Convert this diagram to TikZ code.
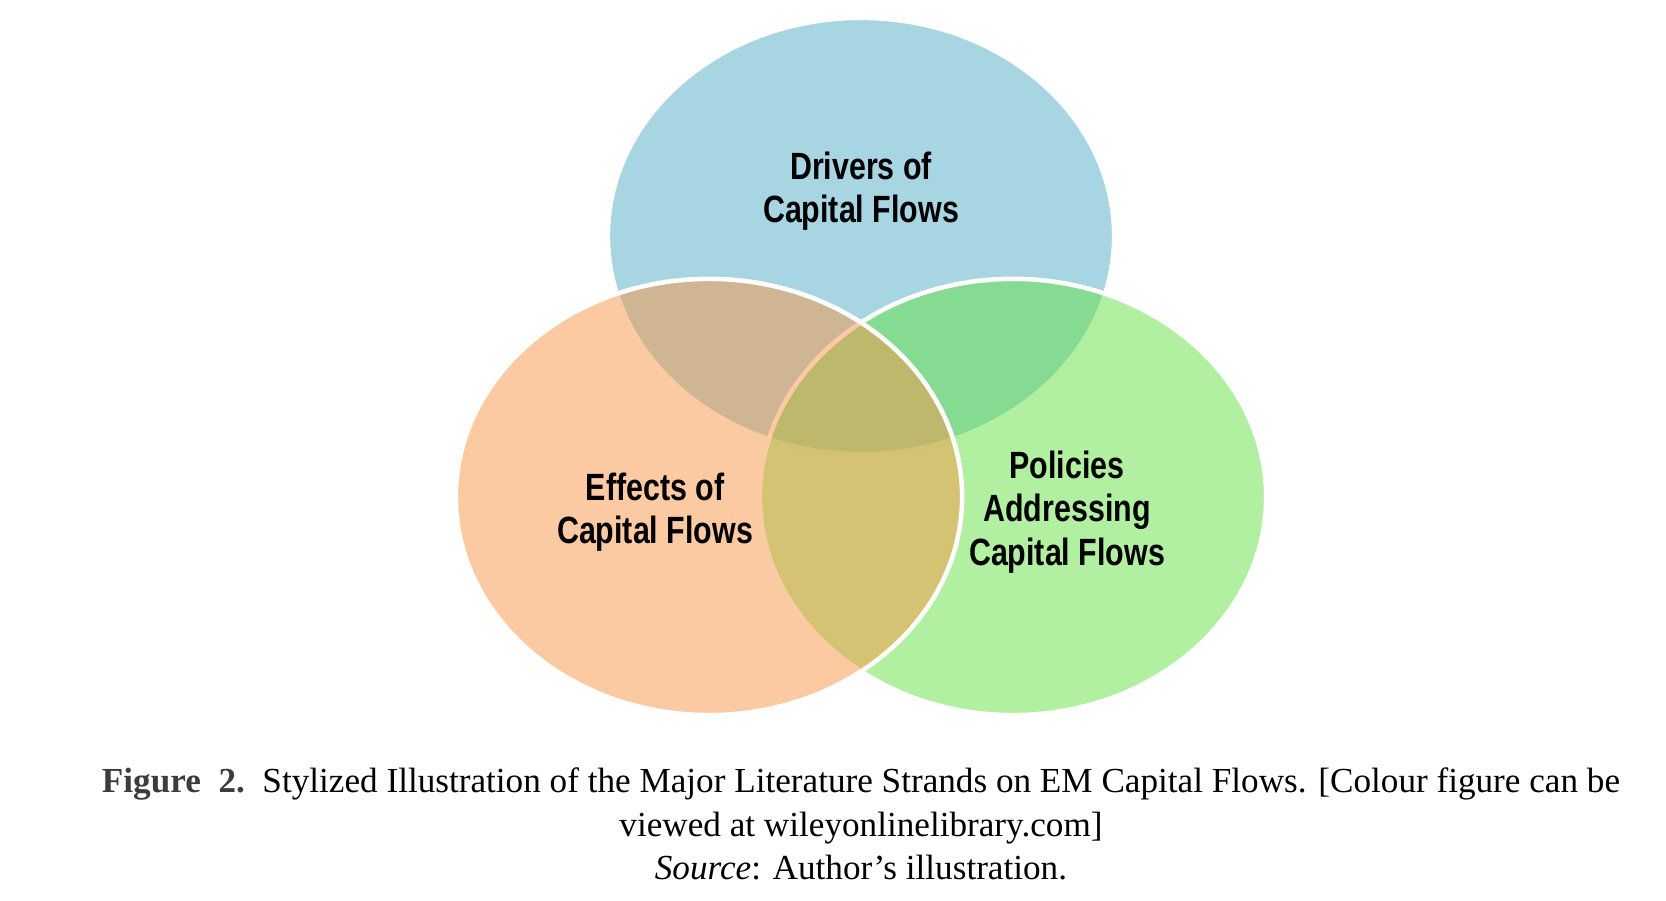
\documentclass[tikz,border=0pt]{standalone}
\usepackage{fontspec}
\setmainfont{Liberation Serif}
\newfontfamily\labelfont[FakeStretch=0.8]{Liberation Sans}
\usetikzlibrary{shapes.geometric}

\definecolor{driversblue}{RGB}{168,213,226}
\definecolor{effectsorange}{RGB}{247,150,70}
\definecolor{policiesgreen}{RGB}{97,225,65}
\definecolor{figuregray}{RGB}{60,60,60}

\begin{document}
\begin{tikzpicture}[
  x=0.01cm,y=-0.01cm,
  strand/.style={ellipse, draw=white, line width=1.3pt, fill=#1, minimum width=5.06cm, minimum height=4.36cm, inner sep=0pt},
  seethrough/.style={fill opacity=.5},
  strandlabel/.style={font=\labelfont\bfseries\fontsize{10.8}{12.4}\selectfont, align=center, text=black},
  captionbox/.style={font=\fontsize{10}{12.4}\selectfont, align=center, inner sep=0pt}
]

% Canvas: same proportions as the 1666x901 original
\path[use as bounding box] (0,0) rectangle (1666,901);

% The three literature strands (orange sits on top)
\node[strand=driversblue] (drivers) at (861,236) {};
\node[strand=policiesgreen, seethrough] (policies) at (1013,497) {};
\node[strand=effectsorange, seethrough] (effects) at (709,497) {};

% Strand labels
\node[strandlabel] (driverslabel) at (861,191) {Drivers of\\Capital Flows};
\node[strandlabel] (effectslabel) at (655,512) {Effects of\\Capital Flows};
\node[strandlabel] (policieslabel) at (1067,512) {Policies\\Addressing\\Capital Flows};

% Caption
\node[captionbox] (figcaption) at (861,824)
  {{\color{figuregray}\bfseries Figure\ \ 2.}\ \ Stylized Illustration of the Major Literature Strands on EM Capital Flows. [Colour figure can be\\
   viewed at wileyonlinelibrary.com]\\
   \textit{Source}: Author’s illustration.};

\end{tikzpicture}
\end{document}
